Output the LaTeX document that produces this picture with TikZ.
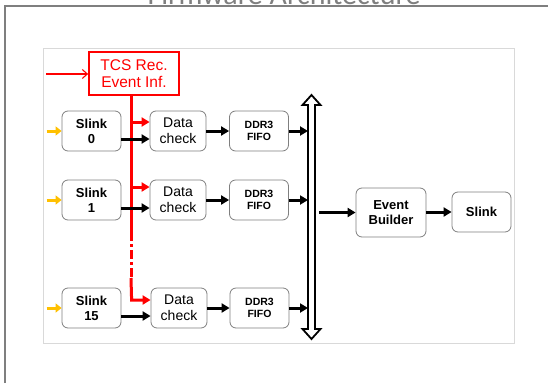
\documentclass[tikz,border=0pt]{standalone}
\usepackage{fontspec}
\setmainfont{Liberation Sans}
\newfontfamily\titlefont{Carlito}
\usetikzlibrary{arrows.meta,calc}
\definecolor{boxgray}{HTML}{7F7F7F}
\definecolor{panelgray}{HTML}{D9D9D9}
\definecolor{tcsred}{HTML}{FF0000}
\definecolor{inyellow}{HTML}{FFC000}
\tikzset{
  blk/.style={draw=boxgray, line width=0.8pt, rounded corners=6pt, fill=white, align=center, inner sep=0pt},
  slinkbox/.style={blk, minimum width=59pt, minimum height=40pt, font=\bfseries\fontsize{13}{15}\selectfont},
  checkbox/.style={blk, minimum width=56pt, minimum height=40pt, font=\fontsize{14}{16}\selectfont},
  fifobox/.style={blk, minimum width=59pt, minimum height=40pt, font=\bfseries\fontsize{10.5}{12}\selectfont},
  blackarrow/.style={line width=3pt, -{Triangle[length=8pt,width=9pt]}},
  redarrow/.style={draw=tcsred, line width=3pt, -{Triangle[length=8pt,width=9pt]}},
  yellowarrow/.style={draw=inyellow, line width=3pt, -{Triangle[length=6pt,width=9pt]}}
}
\begin{document}
\begin{tikzpicture}[x=1pt,y=-1pt]
\useasboundingbox (0,0) rectangle (548,383);
% slide frame and title
\node[anchor=base, text=boxgray, font=\titlefont\fontsize{30}{32}\selectfont] (title) at (284,4) {Firmware Architecture};
\draw[boxgray, line width=1.5pt] (5,383) -- (5,6) -- (548,6);
% panel
\draw[panelgray, line width=0.8pt] (43,48) rectangle (514,343);

% TCS box
\node[draw=tcsred, line width=1.8pt, text=tcsred, minimum width=90pt, minimum height=43pt, align=center, inner sep=0pt, font=\fontsize{15.5}{17}\selectfont] (tcs) at (134,73.5) {TCS Rec.\\Event Inf.};
\coordinate (tcsin) at (46,74);
\draw[draw=tcsred, line width=1.1pt, -{Straight Barb[length=5pt,width=9pt]}] (tcsin) -- (tcs.west |- tcsin);

% rows
\node[slinkbox] (s0) at (91.5,131) {Slink\\0};
\node[checkbox] (d0) at (178,131) {Data\\check};
\node[fifobox] (f0) at (259,131) {DDR3\\FIFO};
\node[slinkbox] (s1) at (91.5,200) {Slink\\1};
\node[checkbox] (d1) at (178,200) {Data\\check};
\node[fifobox] (f1) at (259,200) {DDR3\\FIFO};
\node[slinkbox] (s15) at (91.5,308) {Slink\\15};
\node[checkbox] (d15) at (179,308) {Data\\check};
\node[fifobox] (f15) at (259.5,308) {DDR3\\FIFO};

\node[slinkbox, minimum width=70pt, minimum height=49pt] (eb) at (391,212.5) {Event\\Builder};
\node[slinkbox] (so) at (481.5,212) {Slink};

% yellow inputs
\foreach \n in {s0,s1,s15}{
  \draw[yellowarrow] ($(\n.west)+(-15,0)$) -- (\n.west);
}

% red distribution line
\coordinate (rx) at (131,0);
\coordinate (rtop) at (rx |- tcs.south);
\coordinate (rdash1) at (131,232);
\coordinate (rdash2) at (131,278);
\coordinate (rcorner) at ($(d15.west)+(-19,-8)$);
\draw[tcsred, line width=3pt] (rtop) -- (rdash1);
\draw[tcsred, line width=3pt, dash pattern=on 9pt off 3pt on 3pt off 3pt] (rdash1) -- (rdash2);
\draw[redarrow] (rdash2) -- (rcorner) -- (rcorner -| d15.west);
\draw[redarrow] ($(d0.west)+(-19,-9)$) -- ($(d0.west)+(0,-9)$);
\draw[redarrow] ($(d1.west)+(-19,-13)$) -- ($(d1.west)+(0,-13)$);

% slink -> data check
\draw[blackarrow] ($(s0.east)+(0,8)$) -- ($(d0.west)+(0,8)$);
\draw[blackarrow] ($(s1.east)+(0,8)$) -- ($(d1.west)+(0,8)$);
\draw[blackarrow] ($(s15.east)+(0,8)$) -- ($(d15.west)+(0,8)$);
% data check -> fifo
\draw[blackarrow] (d0) -- (f0);
\draw[blackarrow] (d1) -- (f1);
\draw[blackarrow] (d15) -- (f15);

% bus
\coordinate (bustop) at (311.5,95);
\coordinate (busbot) at (311.5,339);
\coordinate (busL) at (308,0);
\draw[black, line width=1.8pt, fill=white, line join=miter]
  (bustop) -- ($(bustop)+(9,10)$) -- ($(bustop)+(3.5,10)$) -- ($(busbot)+(3.5,-10)$) -- ($(busbot)+(9,-10)$) -- (busbot)
  -- ($(busbot)+(-9,-10)$) -- ($(busbot)+(-3.5,-10)$) -- ($(bustop)+(-3.5,10)$) -- ($(bustop)+(-9,10)$) -- cycle;
\draw[blackarrow] (f0.east) -- (f0.east -| busL);
\draw[blackarrow] (f1.east) -- (f1.east -| busL);
\draw[blackarrow] (f15.east) -- (f15.east -| busL);
\coordinate (busout) at (319,212.5);
\draw[blackarrow] (busout) -- (eb.west |- busout);
\draw[blackarrow] (eb.east |- so.west) -- (so.west);
\end{tikzpicture}
\end{document}
